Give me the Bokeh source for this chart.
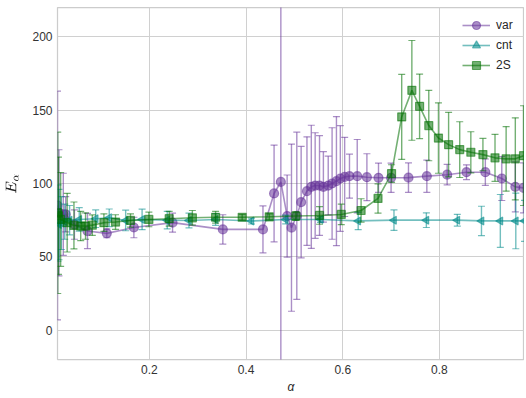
import numpy as np
from bokeh.plotting import figure
from bokeh.models import Range1d, FixedTicker, Legend, LegendItem, ColumnDataSource
from bokeh.embed import file_html
from bokeh.resources import INLINE

# ---- data ----
var_x = [0.010, 0.013, 0.022, 0.027, 0.045, 0.072, 0.112, 0.168, 0.248, 0.352, 0.435,
         0.458, 0.472, 0.485, 0.494, 0.505, 0.514, 0.526, 0.535, 0.543, 0.552, 0.560,
         0.570, 0.578, 0.587, 0.595, 0.604, 0.614, 0.630, 0.650, 0.674, 0.700, 0.736,
         0.774, 0.816, 0.856, 0.895, 0.929, 0.957, 0.974]
var_y = [85, 80, 79, 79, 72, 67.6, 66, 70, 73.3, 68.7, 68.7,
         93.2, 101.1, 77.8, 69.9, 78, 87.3, 94.8, 97.7, 98.6, 98.6, 97.7,
         98.6, 100, 101.6, 103.4, 104.5, 105, 105, 104.3, 103.9, 103.9, 104,
         105, 106, 107.7, 107.7, 103.4, 97.7, 97]
var_err = [78, 43, 28, 12, 10, 12, 3, 7, 6.5, 10, 16,
           33, 400, 28, 57, 57, 38, 37, 42, 36, 34, 24,
           20, 38, 44, 36, 27, 15, 25, 16, 10, 10, 10,
           11, 7, 5, 9, 15, 17, 17]

cnt_x = [0.011, 0.0132, 0.018, 0.025, 0.035, 0.055, 0.089, 0.117, 0.151, 0.185, 0.237,
         0.282, 0.337, 0.411, 0.482, 0.554, 0.632, 0.706, 0.773, 0.837, 0.887, 0.926,
         0.958, 0.976]
cnt_y = [73, 72, 73, 74, 75, 75.5, 76, 76.6, 74.8, 75.5, 75,
         74.8, 75.5, 74.4, 75.5, 75.5, 74.5, 75, 75, 75, 74.5, 74.5,
         74.5, 74.5]
cnt_err = [26, 24, 18, 12, 10, 8, 6, 6, 7, 7, 6,
           5, 4, 2, 3, 2, 6, 7, 5, 4, 10, 18,
           19, 14]

s2_x = [0.0105, 0.012, 0.0165, 0.030, 0.044, 0.058, 0.068, 0.082, 0.106, 0.130, 0.161,
        0.199, 0.241, 0.289, 0.337, 0.392, 0.448, 0.503, 0.552, 0.597, 0.638, 0.673,
        0.701, 0.722, 0.743, 0.759, 0.778, 0.798, 0.819, 0.842, 0.865, 0.890, 0.915,
        0.938, 0.957, 0.974]
s2_y = [80, 78, 75.5, 73.3, 71.4, 71, 71, 71.6, 73.3, 73.7, 74.8,
        75.5, 76, 76.6, 77, 77, 77.3, 77.8, 78.2, 78.9, 81.6, 89.8,
        106.8, 145.4, 163.5, 152.6, 139.5, 131, 126.5, 123.1, 121.3, 119.7, 117.5,
        116.8, 116.8, 119]
s2_err = [55, 40, 32, 20, 16, 10, 9, 7, 6, 5, 4.5,
          5, 5, 5, 4, 2, 2, 3, 6, 7, 8, 10,
          6, 29, 34, 22, 24, 24, 22, 19, 14, 11, 16,
          22, 28, 34]

labels = ["var", "cnt", "2S"]
colors = ["#663399", "#008b8b", "#007000"]
markers = ["circle", "triangle", "square"]
sizes = [9, 8, 8]
angles = [0.0, np.pi / 2, 0.0]

y_ticks = [0, 50, 100, 150, 200]
x_ticks = [0.2, 0.4, 0.6, 0.8]

p = figure(output_backend="svg", toolbar_location=None,
           frame_width=467, frame_height=352,
           x_range=Range1d(0.01, 0.976), y_range=Range1d(-20, 220),
           min_border_left=57, min_border_top=7, min_border_right=0, min_border_bottom=20)

p.background_fill_color = "white"
p.outline_line_color = "#cccccc"
p.outline_line_width = 1.25
for ax in (p.xaxis, p.yaxis):
    ax.axis_line_color = None
    ax.major_tick_line_color = None
    ax.minor_tick_line_color = None
    ax.major_tick_out = 0
    ax.major_tick_in = 0
    ax.major_label_text_font = "Liberation Sans"
    ax.major_label_text_font_size = "12px"
    ax.major_label_text_color = "#333333"
    ax.axis_label_text_font = "Liberation Sans"
    ax.axis_label_text_font_size = "12px"
    ax.axis_label_text_color = "#262626"
    ax.axis_label_text_font_style = "italic"
p.xaxis.ticker = FixedTicker(ticks=x_ticks)
p.yaxis.ticker = FixedTicker(ticks=y_ticks)
p.xaxis.major_label_standoff = 5
p.yaxis.major_label_standoff = 5
p.xaxis.axis_label = "α"
p.yaxis.axis_label = r"$$E_\alpha$$"
p.xaxis.axis_label_standoff = 3
p.yaxis.axis_label_standoff = 10
p.grid.grid_line_color = "#d0d0d0"
p.grid.grid_line_width = 1

series = [(var_x, var_y, var_err), (cnt_x, cnt_y, cnt_err), (s2_x, s2_y, s2_err)]
items = []
alpha = 0.55
for (xs, ys, es), lab, col, mk, sz, ang in zip(series, labels, colors, markers, sizes, angles):
    xs = np.array(xs); ys = np.array(ys); es = np.array(es)
    src = ColumnDataSource(dict(x=xs, y=ys, lo=ys - es, hi=ys + es))
    p.segment(x0="x", y0="lo", x1="x", y1="hi", source=src, line_color=col,
              line_alpha=alpha, line_width=1.4)
    p.scatter(x="x", y="lo", source=src, marker="dash", size=7, line_color=col,
              line_alpha=alpha, line_width=1.2)
    p.scatter(x="x", y="hi", source=src, marker="dash", size=7, line_color=col,
              line_alpha=alpha, line_width=1.2)
    ln = p.line(x="x", y="y", source=src, line_color=col, line_alpha=alpha, line_width=1.6)
    sc = p.scatter(x="x", y="y", source=src, marker=mk, size=sz, angle=ang,
                   fill_color=col, fill_alpha=alpha, line_color=col, line_alpha=alpha,
                   line_width=1.2)
    items.append(LegendItem(label=lab, renderers=[ln, sc]))

legend = Legend(items=items, location="top_right")
legend.background_fill_alpha = 0
legend.border_line_color = None
legend.label_text_font = "Liberation Sans"
legend.label_text_font_size = "12px"
legend.label_text_color = "#262626"
legend.glyph_width = 28
legend.glyph_height = 20
legend.spacing = 0
legend.label_standoff = 6
legend.margin = 8
legend.padding = 4
p.add_layout(legend)

open("out.html", "w").write(file_html(p, INLINE))
